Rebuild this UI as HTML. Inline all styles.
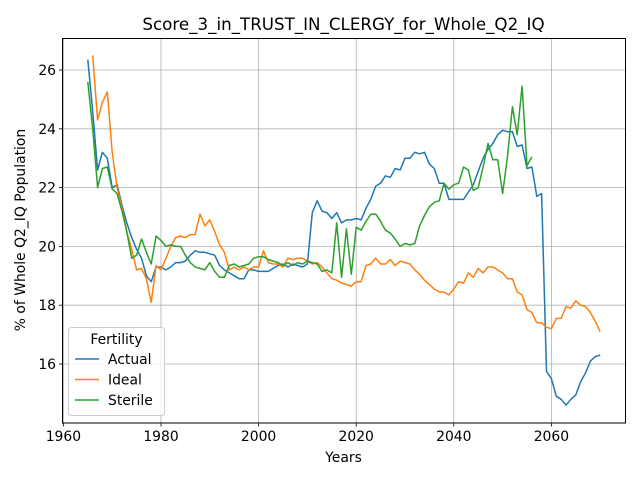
<!DOCTYPE html>
<html><head><meta charset="utf-8"><style>
body{margin:0;background:#fff}
svg{font-family:"DejaVu Sans","Liberation Sans",sans-serif}
</style></head><body>
<svg id="chart" width="640" height="480" viewBox="0 0 640 480">
<rect x="0" y="0" width="640" height="480" fill="#fff"/>
<text x="343.5" y="30" font-size="16.7" text-anchor="middle">Score_3_in_TRUST_IN_CLERGY_for_Whole_Q2_IQ</text>
<g id="grid"></g>
<g id="series"></g>
<rect x="62.5" y="38.5" width="563" height="384.5" fill="none" stroke="#000" stroke-width="1"/>
<g id="ticks"></g>
<text x="343.5" y="462" font-size="13.9" text-anchor="middle">Years</text>
<text transform="translate(25,230) rotate(-90)" font-size="13.9" text-anchor="middle">% of Whole Q2_IQ Population</text>
<g id="legend"></g>
</svg>
<script>
const xTicks=[1960,1980,2000,2020,2040,2060];
const yTicks=[16,18,20,22,24,26];
const actualYears=[];for(let y=1965;y<=2070;y++)actualYears.push(y);
const idealYears=[];for(let y=1966;y<=2070;y++)idealYears.push(y);
const sterileYears=[];for(let y=1965;y<=2056;y++)sterileYears.push(y);
const actual=[26.35,24.6,22.6,23.2,23.0,22.0,22.1,21.4,20.8,20.3,19.9,19.6,19.0,18.8,19.3,19.3,19.2,19.3,19.45,19.45,19.5,19.7,19.85,19.8,19.8,19.75,19.7,19.35,19.2,19.1,19.0,18.9,18.9,19.2,19.2,19.15,19.15,19.15,19.25,19.35,19.4,19.3,19.4,19.35,19.3,19.4,21.15,21.55,21.2,21.15,20.95,21.15,20.8,20.9,20.9,20.95,20.9,21.3,21.6,22.05,22.15,22.4,22.35,22.65,22.6,23.0,23.0,23.2,23.15,23.2,22.8,22.65,22.15,22.15,21.6,21.6,21.6,21.6,21.85,22.1,22.55,23.0,23.3,23.5,23.8,23.95,23.9,23.9,23.4,23.45,22.65,22.7,21.7,21.8,15.75,15.5,14.9,14.8,14.6,14.8,14.95,15.4,15.7,16.1,16.25,16.3];
const ideal=[26.5,24.3,24.9,25.25,23.2,22.0,21.3,20.5,19.9,19.2,19.25,18.9,18.1,19.35,19.2,19.6,20.0,20.3,20.35,20.3,20.4,20.4,21.1,20.7,20.9,20.5,20.05,19.8,19.2,19.3,19.2,19.3,19.2,19.3,19.3,19.85,19.45,19.4,19.4,19.3,19.6,19.55,19.6,19.6,19.5,19.4,19.45,19.3,19.1,18.9,18.85,18.75,18.7,18.65,18.8,18.8,19.35,19.4,19.6,19.4,19.4,19.55,19.35,19.5,19.45,19.4,19.2,19.05,18.85,18.7,18.55,18.45,18.45,18.35,18.55,18.8,18.75,19.1,18.95,19.25,19.1,19.3,19.3,19.2,19.1,18.9,18.9,18.45,18.35,17.85,17.75,17.4,17.4,17.25,17.2,17.55,17.55,17.95,17.9,18.15,18.0,17.95,17.75,17.45,17.1];
const sterile=[25.6,24.0,22.0,22.65,22.7,21.95,21.8,21.2,20.5,19.6,19.7,20.25,19.8,19.4,20.35,20.2,20.0,20.05,20.0,20.0,19.7,19.45,19.3,19.25,19.2,19.45,19.15,18.95,18.95,19.35,19.4,19.3,19.35,19.4,19.6,19.65,19.65,19.55,19.5,19.45,19.35,19.45,19.35,19.45,19.4,19.5,19.45,19.4,19.15,19.2,19.1,20.8,18.95,20.6,19.05,20.65,20.55,20.85,21.1,21.1,20.85,20.55,20.45,20.25,20.0,20.1,20.05,20.1,20.7,21.05,21.35,21.5,21.55,22.15,21.95,22.1,22.15,22.7,22.6,21.9,22.0,22.7,23.5,22.95,22.95,21.8,23.05,24.75,23.8,25.45,22.75,23.05];
const NS='http://www.w3.org/2000/svg';
const X=v=>63.4+(v-1960)*4.88;
const Y=v=>70+(26-v)*29.4;
function mk(tag,attrs,parent){const e=document.createElementNS(NS,tag);for(const k in attrs)e.setAttribute(k,attrs[k]);parent.appendChild(e);return e;}
const grid=document.getElementById('grid'),ticks=document.getElementById('ticks');
xTicks.forEach(t=>{
 const l=mk('line',{x1:X(t),x2:X(t),y1:38.5,y2:423,stroke:'#b0b0b0','stroke-width':0.8},grid);
 
 
 const tk=mk('line',{x1:X(t),x2:X(t),y1:423,y2:426.5,stroke:'#000','stroke-width':0.8},ticks);
 
 
 const tx=mk('text',{x:X(t),y:441,'font-size':13.9,'text-anchor':'middle'},ticks);tx.textContent=t;
 
 
});
yTicks.forEach(t=>{
 const l=mk('line',{x1:62.5,x2:625.5,y1:Y(t),y2:Y(t),stroke:'#b0b0b0','stroke-width':0.8},grid);
 
 
 const tk=mk('line',{x1:59,x2:62.5,y1:Y(t),y2:Y(t),stroke:'#000','stroke-width':0.8},ticks);
 
 
 const tx=mk('text',{x:56,y:Y(t)+5,'font-size':13.9,'text-anchor':'end'},ticks);tx.textContent=t;
 
 
});
const sg=document.getElementById('series');
function line(xs,ys,color,name){
 const p=mk('polyline',{points:xs.map((x,i)=>X(x).toFixed(1)+','+Y(ys[i]).toFixed(1)).join(' '),fill:'none',stroke:color,'stroke-width':1.5,'stroke-linejoin':'round'},sg);
 
 
}
line(actualYears,actual,'#1f77b4','actual-line');
line(idealYears,ideal,'#ff7f0e','ideal-line');
line(sterileYears,sterile,'#2ca02c','sterile-line');
const lg=document.getElementById('legend');
const box=mk('rect',{x:68.5,y:327.5,width:96,height:88,rx:3,fill:'#fff','fill-opacity':0.8,stroke:'#ccc'},lg);


const lt=mk('text',{x:116.5,y:344,'font-size':13.9,'text-anchor':'middle'},lg);lt.textContent='Fertility';


[['Actual','#1f77b4'],['Ideal','#ff7f0e'],['Sterile','#2ca02c']].forEach((d,i)=>{
 const y=359+i*20.5;
 const g=mk('g',{},lg);
 
 
 mk('line',{x1:75,x2:99,y1:y,y2:y,stroke:d[1],'stroke-width':1.5},g);
 const t=mk('text',{x:108,y:y+5,'font-size':13.9},g);t.textContent=d[0];
});
</script>
</body></html>
